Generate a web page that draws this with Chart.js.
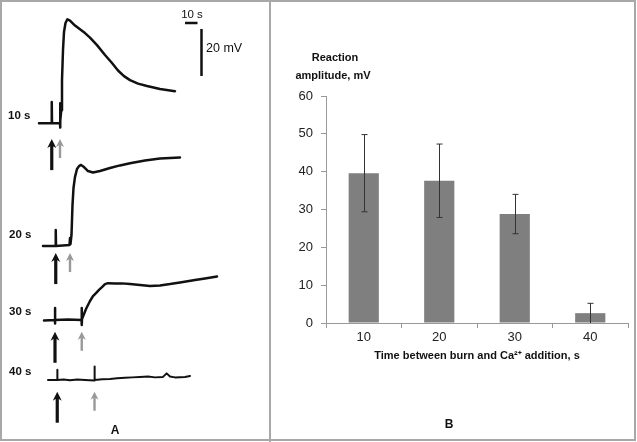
<!DOCTYPE html>
<html>
<head>
<meta charset="utf-8">
<script src="https://cdn.jsdelivr.net/npm/chart.js@4.4.1/dist/chart.umd.min.js"></script>
<style>
  body { margin: 0; background: #fff; }
  #fig { position: relative; width: 637px; height: 442px; overflow: hidden; font-family: "Liberation Sans", Arial, sans-serif; color: #111; }
  canvas { position: absolute; top: 0; }
  .lbl { position: absolute; white-space: nowrap; transform: translate(0, -50%); }
  .ctr { transform: translate(-50%, -50%); }
  .b { font-weight: bold; }
  #frame { position: absolute; left: 0; top: 0; width: 636px; height: 441px; box-sizing: border-box; border: 2px solid #a8a8a8; pointer-events: none; }
  #divider { position: absolute; left: 269px; top: 0; width: 2px; height: 442px; background: #a8a8a8; }
</style>
</head>
<body>
<div id="fig">
  <canvas id="traces" width="270" height="442" style="left:0"></canvas>
  <canvas id="bars" width="367" height="442" style="left:270px"></canvas>

  <div class="lbl b" style="left:8px;top:115px;font-size:11.5px">10 s</div>
  <div class="lbl b" style="left:9px;top:234px;font-size:11.5px">20 s</div>
  <div class="lbl b" style="left:9px;top:311px;font-size:11.5px">30 s</div>
  <div class="lbl b" style="left:9px;top:371px;font-size:11.5px">40 s</div>
  <div class="lbl ctr" style="left:192px;top:14px;font-size:11.5px">10 s</div>
  <div class="lbl" style="left:206px;top:48px;font-size:12.5px">20 mV</div>
  <div class="lbl ctr b" style="left:115px;top:430px;font-size:12px">A</div>

  <div class="lbl ctr b" style="left:335px;top:57px;font-size:11px">Reaction</div>
  <div class="lbl ctr b" style="left:333px;top:75px;font-size:11px">amplitude, mV</div>
  <div class="lbl ctr b" style="left:449px;top:424px;font-size:12px">B</div>

  <div id="divider"></div>
  <div id="frame"></div>
</div>
<script>
// ---- Panel A: membrane potential traces (time in s from the burn, potential in mV from baseline)
const trace10Time = [-10.2, 0, 0, 0.2, 6.6, 6.6, 6.8, 7.0, 7.6, 8.2, 9.0, 9.8, 11.0, 12.5, 14.6, 18.6, 26.6, 30.6, 36.2, 42.6, 48.2, 53.0, 57.8, 62.6, 69.0, 76.2, 86.6, 98.6];
const trace10Mv   = [0, 0, 9.1, 0, 0, -1.8, 8.6, 1.0, 5.6, 18.4, 31.2, 38.9, 42.7, 44.3, 43.7, 41.6, 38.4, 36.5, 33.3, 29.1, 25.7, 22.5, 20.1, 18.4, 16.9, 15.9, 14.6, 13.7];

const trace20Time = [-10.2, 0, 0, 0.2, 11.0, 11.4, 11.8, 12.6, 13.4, 14.2, 15.4, 17.0, 18.6, 20.2, 22.6, 25.8, 29.8, 35.4, 43.4, 51.4, 59.4, 71.4, 83.4, 99.4];
const trace20Mv   = [0, 0, 6.8, 0, 0.4, 3.4, 0.9, 4.7, 17.4, 24.7, 29.4, 32.8, 34.0, 34.5, 33.6, 31.9, 31.3, 31.9, 33.2, 34.3, 35.2, 36.4, 37.2, 37.7];

const trace30Time = [-8.8, 0, 0, 0, 0.2, 10.4, 21.2, 21.4, 21.4, 21.6, 23.2, 24.8, 26.4, 28.0, 30.4, 32.8, 35.2, 37.6, 40.0, 42.4, 48.0, 53.6, 60.0, 68.0, 76.0, 84.0, 92.0, 100.0, 112.0, 120.0, 129.6];
const trace30Mv   = [-0.2, 0, 5.1, -1.5, 0, 0.2, 0, 5.1, -2.1, 0.4, 2.6, 4.7, 6.4, 8.1, 10.2, 11.5, 12.8, 14.0, 15.3, 15.7, 15.5, 15.6, 15.3, 14.9, 14.5, 14.7, 15.3, 16.0, 17.0, 17.7, 18.5];

const trace40Time = [-7.4, 0, 0, 0.2, 5.0, 10.2, 16.0, 22.2, 29.8, 29.8, 30.0, 36.0, 42.2, 48.0, 54.2, 60.0, 66.2, 72.6, 78.2, 84.6, 87.5, 90.2, 94.2, 102.2, 106.2];
const trace40Mv   = [0, 0, 4.3, 0, 0.2, -0.1, 0.2, 0, -0.2, 5.7, 0, 0.3, 0.4, 0.7, 0.9, 1.1, 1.3, 1.5, 1.1, 1.3, 2.8, 1.5, 1.1, 1.3, 1.7];

// time of Ca2+ addition (grey arrow), s after the burn (black arrow)
const caAdditionTime = [6.6, 11.4, 21.4, 29.8];

// ---- Panel B: reaction amplitude
const delays = ['10', '20', '30', '40'];
const amplitude = [39.6, 37.6, 28.8, 2.6];
const amplitudeSd = [10.2, 9.7, 5.2, 2.6];
const yTicks = [0, 10, 20, 30, 40, 50, 60];

// ---- layout of panel A (scale: 1.25 px per s, 2.35 px per mV)
const traceOffsetS = [41.4, 44.6, 44.0, 45.8];
const traceBaseMv = [135.6, 83.4, 51.9, 26.4];
const arrowTipMv = [-6.7, -3.0, -5.0, -5.0];
const scaleBarAt = { t: 148, v: 178.3 };

const traces = [
  [trace10Time, trace10Mv],
  [trace20Time, trace20Mv],
  [trace30Time, trace30Mv],
  [trace40Time, trace40Mv]
];

const traceSets = traces.map(([ts, vs], i) => ({
  data: ts.map((t, k) => ({ x: t + traceOffsetS[i], y: vs[k] + traceBaseMv[i] })),
  borderColor: '#111',
  borderWidth: i === 3 ? 2 : 2.5,
  pointRadius: 0,
  showLine: true,
  tension: 0,
  borderJoinStyle: 'round',
  borderCapStyle: 'round',
  clip: false
}));

function drawArrow(ctx, x, yTip, yTail, color, width, head) {
  ctx.save();
  ctx.strokeStyle = color;
  ctx.fillStyle = color;
  ctx.lineWidth = width;
  ctx.beginPath();
  ctx.moveTo(x, yTail);
  ctx.lineTo(x, yTip + head * 0.6);
  ctx.stroke();
  ctx.beginPath();
  ctx.moveTo(x, yTip);
  ctx.lineTo(x - head / 2, yTip + head);
  ctx.lineTo(x, yTip + head * 0.7);
  ctx.lineTo(x + head / 2, yTip + head);
  ctx.closePath();
  ctx.fill();
  ctx.restore();
}

const markersPlugin = {
  id: 'markers',
  afterDatasetsDraw(chart) {
    const { ctx, scales: { x, y } } = chart;
    traces.forEach((tr, i) => {
      const tip = y.getPixelForValue(traceBaseMv[i] + arrowTipMv[i]);
      const yBlack = tip + 31;
      const yGrey = tip + 19;
      drawArrow(ctx, x.getPixelForValue(traceOffsetS[i]), tip, yBlack, '#111', 3.2, 9);
      drawArrow(ctx, x.getPixelForValue(traceOffsetS[i] + caAdditionTime[i]), tip, yGrey, '#999', 2.4, 8);
    });
    // scale bar: 10 s and 20 mV
    ctx.save();
    ctx.strokeStyle = '#111';
    ctx.lineWidth = 2.5;
    ctx.beginPath();
    ctx.moveTo(x.getPixelForValue(scaleBarAt.t), y.getPixelForValue(scaleBarAt.v));
    ctx.lineTo(x.getPixelForValue(scaleBarAt.t + 10), y.getPixelForValue(scaleBarAt.v));
    ctx.moveTo(x.getPixelForValue(scaleBarAt.t + 13.2), y.getPixelForValue(scaleBarAt.v - 2.6));
    ctx.lineTo(x.getPixelForValue(scaleBarAt.t + 13.2), y.getPixelForValue(scaleBarAt.v - 22.6));
    ctx.stroke();
    ctx.restore();
  }
};

new Chart(document.getElementById('traces'), {
  type: 'scatter',
  data: { datasets: traceSets },
  options: {
    responsive: false,
    animation: false,
    layout: { padding: 0 },
    plugins: { legend: { display: false }, tooltip: { enabled: false } },
    scales: {
      x: { type: 'linear', display: false, min: 0, max: 216 },
      y: { type: 'linear', display: false, min: 0, max: 188.09 }
    }
  },
  plugins: [markersPlugin]
});

// ---- Panel B
const errorBarsPlugin = {
  id: 'errorBars',
  afterDatasetsDraw(chart) {
    const { ctx, scales: { x, y } } = chart;
    ctx.save();
    ctx.strokeStyle = '#333';
    ctx.lineWidth = 1;
    amplitude.forEach((v, i) => {
      const cx = Math.round(x.getPixelForValue(i)) + 0.5;
      const hi = y.getPixelForValue(v + amplitudeSd[i]);
      const lo = y.getPixelForValue(Math.max(0, v - amplitudeSd[i]));
      ctx.beginPath();
      ctx.moveTo(cx, hi);
      ctx.lineTo(cx, lo);
      ctx.moveTo(cx - 3, hi);
      ctx.lineTo(cx + 3, hi);
      if (v - amplitudeSd[i] > 0.5) {
        ctx.moveTo(cx - 3, lo);
        ctx.lineTo(cx + 3, lo);
      }
      ctx.stroke();
    });
    ctx.restore();
  }
};

const tickFont = { family: '"Liberation Sans", Arial, sans-serif', size: 13 };

new Chart(document.getElementById('bars'), {
  type: 'bar',
  data: {
    labels: delays,
    datasets: [{
      data: amplitude,
      backgroundColor: '#7f7f7f',
      borderWidth: 0,
      categoryPercentage: 1,
      barPercentage: 0.4
    }]
  },
  options: {
    responsive: false,
    animation: false,
    layout: { padding: { top: 96, right: 9, left: 0, bottom: 0 } },
    plugins: { legend: { display: false }, tooltip: { enabled: false } },
    scales: {
      x: {
        afterFit: s => { s.height = 119; },
        grid: { offset: true, drawOnChartArea: false, drawTicks: true, tickLength: 5, color: '#999' },
        border: { color: '#999', width: 1 },
        ticks: { font: tickFont, color: '#222', padding: 2 },
        title: {
          display: true,
          text: 'Time between burn and Ca\u00B2\u207A addition, s',
          font: { family: '"Liberation Sans", Arial, sans-serif', size: 11, weight: 'bold' },
          color: '#111',
          padding: { top: 4, bottom: 79 }
        }
      },
      y: {
        min: 0,
        max: 60,
        afterFit: s => { s.width = 56; },
        afterBuildTicks: s => { s.ticks = yTicks.map(v => ({ value: v })); },
        grid: { drawOnChartArea: false, drawTicks: true, tickLength: 5, color: '#999' },
        border: { color: '#999', width: 1 },
        ticks: { font: tickFont, color: '#222', padding: 8 }
      }
    }
  },
  plugins: [errorBarsPlugin]
});
</script>
</body>
</html>
